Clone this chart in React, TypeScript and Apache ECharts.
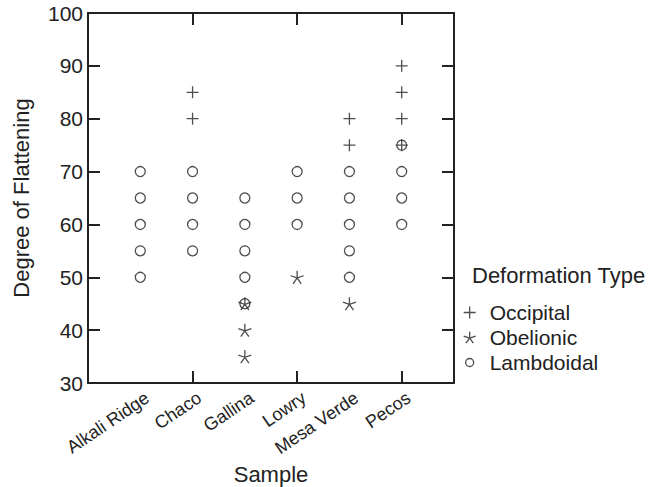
import React, { useEffect, useRef } from "react";
import * as echarts from "echarts";

const categories = ["", "Alkali Ridge", "Chaco", "Gallina", "Lowry", "Mesa Verde", "Pecos", ""];

const occipital: [string, number][] = [
  ["Chaco", 80], ["Chaco", 85],
  ["Mesa Verde", 75], ["Mesa Verde", 80],
  ["Pecos", 75], ["Pecos", 80], ["Pecos", 85], ["Pecos", 90],
];

const obelionic: [string, number][] = [
  ["Gallina", 35], ["Gallina", 40], ["Gallina", 45],
  ["Lowry", 50],
  ["Mesa Verde", 45],
];

const lambdoidal: [string, number][] = [
  ["Alkali Ridge", 50], ["Alkali Ridge", 55], ["Alkali Ridge", 60], ["Alkali Ridge", 65], ["Alkali Ridge", 70],
  ["Chaco", 55], ["Chaco", 60], ["Chaco", 65], ["Chaco", 70],
  ["Gallina", 45], ["Gallina", 50], ["Gallina", 55], ["Gallina", 60], ["Gallina", 65],
  ["Lowry", 60], ["Lowry", 65], ["Lowry", 70],
  ["Mesa Verde", 50], ["Mesa Verde", 55], ["Mesa Verde", 60], ["Mesa Verde", 65], ["Mesa Verde", 70],
  ["Pecos", 60], ["Pecos", 65], ["Pecos", 70], ["Pecos", 75],
];

const FONT = "Liberation Sans, Arial, Helvetica, sans-serif";
const INK = "#222";

const PLUS = "path://M0,6L12,6M6,0L6,12";
const STAR =
  "path://M0,0L0,-1M0,0L0.951,-0.309M0,0L0.588,0.809M0,0L-0.588,0.809M0,0L-0.951,-0.309";
const LEGEND_CIRCLE = "path://M0,0L0,0M12,12L12,12M10,6A4,4,0,1,1,2,6A4,4,0,1,1,10,6Z";

export default function App() {
  const ref = useRef<HTMLDivElement>(null);
  useEffect(() => {
    if (!ref.current) return;
    const chart = echarts.init(ref.current, undefined, { renderer: "svg" });
    const tickStyle = { show: true, inside: true, length: 12, lineStyle: { color: INK, width: 2 } };
    const lineStyle = { show: true, lineStyle: { color: INK, width: 2 } };
    const symStyle = { color: "transparent", borderColor: INK, borderWidth: 1.3 };
    chart.setOption({
      animation: false,
      backgroundColor: "#fff",
      textStyle: { fontFamily: FONT },
      grid: [
        { left: 88, top: 13, width: 366, height: 370, containLabel: false, outerBoundsMode: "none" },
        { left: 95, top: 13, width: 366, height: 370, containLabel: false, outerBoundsMode: "none", show: false },
      ],
      xAxis: [
        {
          type: "category",
          gridIndex: 0,
          data: categories,
          boundaryGap: false,
          position: "bottom",
          axisLine: lineStyle,
          axisTick: tickStyle,
          splitLine: { show: false },
          axisLabel: { show: false },
          name: "Sample",
          nameLocation: "middle",
          nameGap: 80,
          nameTextStyle: { fontSize: 22, color: INK, fontFamily: FONT },
        },
        {
          type: "category",
          gridIndex: 0,
          data: categories,
          boundaryGap: false,
          position: "top",
          axisLine: lineStyle,
          axisTick: tickStyle,
          axisLabel: { show: false },
          splitLine: { show: false },
        },
        {
          type: "category",
          gridIndex: 1,
          data: categories,
          boundaryGap: false,
          position: "bottom",
          axisLine: { show: false },
          axisTick: { show: false },
          splitLine: { show: false },
          axisLabel: { rotate: 34, fontSize: 18, color: INK, margin: 13, interval: 0, fontFamily: FONT },
        },
      ],
      yAxis: [
        {
          type: "value",
          gridIndex: 0,
          min: 30,
          max: 100,
          interval: 10,
          position: "left",
          axisLine: lineStyle,
          axisTick: tickStyle,
          splitLine: { show: false },
          axisLabel: { fontSize: 21, color: INK, margin: 5, fontFamily: FONT },
          name: "Degree of Flattening",
          nameLocation: "middle",
          nameGap: 56,
          nameTextStyle: { fontSize: 22, color: INK, fontFamily: FONT },
        },
        {
          type: "value",
          gridIndex: 0,
          min: 30,
          max: 100,
          interval: 10,
          position: "right",
          axisLine: lineStyle,
          axisTick: tickStyle,
          axisLabel: { show: false },
          splitLine: { show: false },
        },
        {
          type: "value",
          gridIndex: 1,
          min: 30,
          max: 100,
          show: false,
        },
      ],
      legend: {
        orient: "vertical",
        left: 463,
        top: 302,
        padding: 0,
        itemWidth: 12,
        itemHeight: 12,
        itemGap: 4,
        itemStyle: { color: "transparent", borderColor: INK, borderWidth: 1.3 },
        formatter: (name: string) => `{g|}${name}`,
        textStyle: {
          fontSize: 21,
          lineHeight: 21,
          color: INK,
          fontFamily: FONT,
          rich: { g: { width: 9 } },
        },
        data: [
          { name: "Occipital", icon: PLUS },
          { name: "Obelionic", icon: STAR },
          { name: "Lambdoidal", icon: LEGEND_CIRCLE },
        ],
      },
      title: {
        text: "Deformation Type",
        left: 472,
        top: 264,
        padding: 0,
        textStyle: { fontSize: 22, fontWeight: "normal", color: INK, fontFamily: FONT },
      },
      series: [
        {
          name: "Occipital",
          type: "scatter",
          data: occipital,
          symbol: PLUS,
          symbolSize: 12,
          itemStyle: symStyle,
        },
        {
          name: "Obelionic",
          type: "scatter",
          data: obelionic,
          symbol: STAR,
          symbolSize: 13,
          itemStyle: symStyle,
        },
        {
          name: "Lambdoidal",
          type: "scatter",
          data: lambdoidal,
          symbol: "circle",
          symbolSize: 10,
          itemStyle: symStyle,
        },
      ],
    });
    return () => chart.dispose();
  }, []);
  return <div ref={ref} style={{ width: 655, height: 487, position: "absolute", left: 0, top: 0 }} />;
}
